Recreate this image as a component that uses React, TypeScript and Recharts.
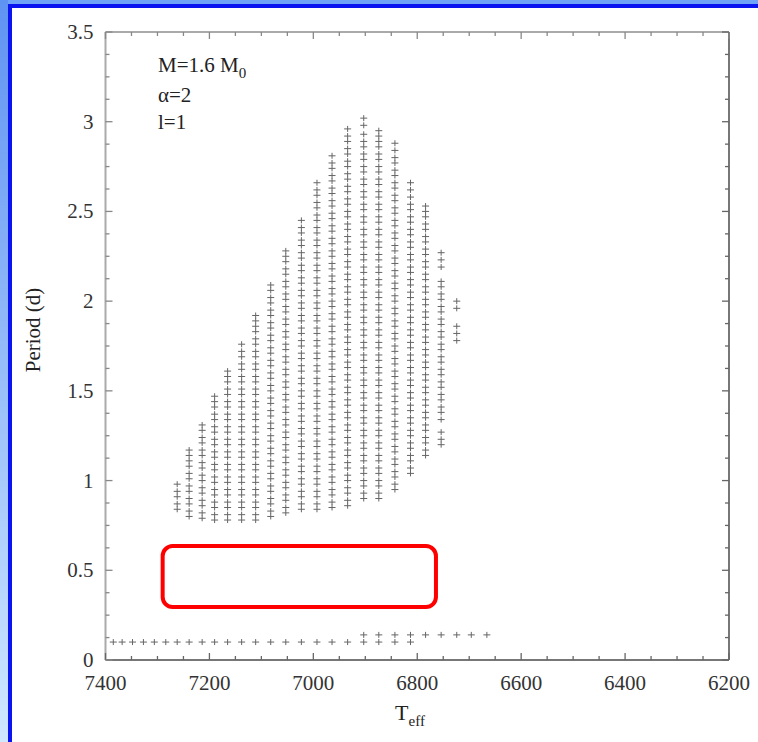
import React from 'react';
import { ScatterChart, Scatter, XAxis, YAxis, ReferenceArea } from 'recharts';

// ---- data ----
const col7262 = [0.84, 0.87, 0.91, 0.94, 0.98];
const col7239 = [0.8, 0.83, 0.87, 0.9, 0.94, 0.97, 1.01, 1.04, 1.08, 1.11, 1.14, 1.17];
const col7214 = [0.79, 0.82, 0.86, 0.89, 0.93, 0.96, 1.0, 1.03, 1.07, 1.1, 1.14, 1.17, 1.21, 1.24, 1.28, 1.31];
const col7190 = [0.78, 0.81, 0.85, 0.88, 0.92, 0.95, 0.99, 1.02, 1.06, 1.09, 1.13, 1.16, 1.2, 1.23, 1.27, 1.3, 1.34, 1.37, 1.41, 1.44, 1.47];
const col7165 = [0.78, 0.81, 0.85, 0.88, 0.92, 0.95, 0.99, 1.02, 1.06, 1.09, 1.13, 1.16, 1.2, 1.23, 1.27, 1.3, 1.34, 1.37, 1.41, 1.44, 1.48, 1.51, 1.55, 1.58, 1.61];
const col7138 = [0.78, 0.81, 0.85, 0.88, 0.92, 0.95, 0.99, 1.02, 1.06, 1.09, 1.13, 1.16, 1.2, 1.23, 1.27, 1.3, 1.34, 1.37, 1.41, 1.44, 1.48, 1.51, 1.55, 1.58, 1.62, 1.65, 1.69, 1.72, 1.76];
const col7111 = [0.78, 0.81, 0.85, 0.88, 0.92, 0.95, 0.99, 1.02, 1.06, 1.09, 1.13, 1.16, 1.2, 1.23, 1.27, 1.3, 1.34, 1.37, 1.41, 1.44, 1.48, 1.51, 1.55, 1.58, 1.62, 1.65, 1.69, 1.72, 1.76, 1.79, 1.83, 1.86, 1.89, 1.92];
const col7082 = [0.8, 0.83, 0.87, 0.9, 0.94, 0.97, 1.01, 1.04, 1.08, 1.11, 1.15, 1.18, 1.22, 1.25, 1.29, 1.32, 1.36, 1.39, 1.43, 1.46, 1.5, 1.53, 1.57, 1.6, 1.64, 1.67, 1.71, 1.74, 1.78, 1.81, 1.85, 1.88, 1.92, 1.95, 1.99, 2.02, 2.06, 2.09];
const col7053 = [0.82, 0.85, 0.89, 0.92, 0.96, 0.99, 1.03, 1.06, 1.1, 1.13, 1.17, 1.2, 1.24, 1.27, 1.31, 1.34, 1.38, 1.41, 1.45, 1.48, 1.52, 1.55, 1.59, 1.62, 1.66, 1.69, 1.73, 1.76, 1.8, 1.83, 1.87, 1.9, 1.94, 1.97, 2.01, 2.04, 2.08, 2.11, 2.15, 2.18, 2.22, 2.25, 2.28];
const col7023 = [0.84, 0.87, 0.91, 0.94, 0.98, 1.01, 1.05, 1.08, 1.12, 1.15, 1.19, 1.22, 1.26, 1.29, 1.33, 1.36, 1.4, 1.43, 1.47, 1.5, 1.54, 1.57, 1.61, 1.64, 1.68, 1.71, 1.75, 1.78, 1.82, 1.85, 1.89, 1.92, 1.96, 1.99, 2.03, 2.06, 2.1, 2.13, 2.17, 2.2, 2.24, 2.27, 2.31, 2.34, 2.38, 2.41, 2.45];
const col6993 = [0.84, 0.87, 0.91, 0.94, 0.98, 1.01, 1.05, 1.08, 1.12, 1.15, 1.19, 1.22, 1.26, 1.29, 1.33, 1.36, 1.4, 1.43, 1.47, 1.5, 1.54, 1.57, 1.61, 1.64, 1.68, 1.71, 1.75, 1.78, 1.82, 1.85, 1.89, 1.92, 1.96, 1.99, 2.03, 2.06, 2.1, 2.13, 2.17, 2.2, 2.24, 2.27, 2.31, 2.34, 2.38, 2.41, 2.45, 2.48, 2.52, 2.55, 2.59, 2.62, 2.66];
const col6964 = [0.85, 0.88, 0.92, 0.95, 0.99, 1.02, 1.06, 1.09, 1.13, 1.16, 1.2, 1.23, 1.27, 1.3, 1.34, 1.37, 1.41, 1.44, 1.48, 1.51, 1.55, 1.58, 1.62, 1.65, 1.69, 1.72, 1.76, 1.79, 1.83, 1.86, 1.9, 1.93, 1.97, 2.0, 2.04, 2.07, 2.11, 2.14, 2.18, 2.21, 2.25, 2.28, 2.32, 2.35, 2.39, 2.42, 2.46, 2.49, 2.53, 2.56, 2.6, 2.63, 2.67, 2.7, 2.74, 2.77, 2.81];
const col6934 = [0.86, 0.89, 0.93, 0.96, 1.0, 1.03, 1.07, 1.1, 1.14, 1.17, 1.21, 1.24, 1.28, 1.31, 1.35, 1.38, 1.42, 1.45, 1.49, 1.52, 1.56, 1.59, 1.63, 1.66, 1.7, 1.73, 1.77, 1.8, 1.84, 1.87, 1.91, 1.94, 1.98, 2.01, 2.05, 2.08, 2.12, 2.15, 2.19, 2.22, 2.26, 2.29, 2.33, 2.36, 2.4, 2.43, 2.47, 2.5, 2.54, 2.57, 2.61, 2.64, 2.68, 2.71, 2.75, 2.78, 2.82, 2.85, 2.89, 2.92, 2.96];
const col6903 = [0.9, 0.93, 0.97, 1.0, 1.04, 1.07, 1.11, 1.14, 1.18, 1.21, 1.25, 1.28, 1.32, 1.35, 1.39, 1.42, 1.46, 1.49, 1.53, 1.56, 1.6, 1.63, 1.67, 1.7, 1.74, 1.77, 1.81, 1.84, 1.88, 1.91, 1.95, 1.98, 2.02, 2.05, 2.09, 2.12, 2.16, 2.19, 2.23, 2.26, 2.3, 2.33, 2.37, 2.4, 2.44, 2.47, 2.51, 2.54, 2.58, 2.61, 2.65, 2.68, 2.72, 2.75, 2.79, 2.82, 2.86, 2.89, 2.93, 2.98, 3.02];
const col6874 = [0.9, 0.93, 0.97, 1.0, 1.04, 1.07, 1.11, 1.14, 1.18, 1.21, 1.25, 1.28, 1.32, 1.35, 1.39, 1.42, 1.46, 1.49, 1.53, 1.56, 1.6, 1.63, 1.67, 1.7, 1.74, 1.77, 1.81, 1.84, 1.88, 1.91, 1.95, 1.98, 2.02, 2.05, 2.09, 2.12, 2.16, 2.19, 2.23, 2.26, 2.3, 2.33, 2.37, 2.4, 2.44, 2.47, 2.51, 2.54, 2.58, 2.61, 2.65, 2.68, 2.72, 2.75, 2.79, 2.82, 2.86, 2.89, 2.92, 2.95];
const col6843 = [0.95, 0.98, 1.02, 1.05, 1.09, 1.12, 1.16, 1.19, 1.23, 1.26, 1.3, 1.33, 1.37, 1.4, 1.44, 1.47, 1.51, 1.54, 1.58, 1.61, 1.65, 1.68, 1.72, 1.75, 1.79, 1.82, 1.86, 1.89, 1.93, 1.96, 2.0, 2.03, 2.07, 2.1, 2.14, 2.17, 2.21, 2.24, 2.28, 2.31, 2.35, 2.38, 2.42, 2.45, 2.49, 2.52, 2.56, 2.59, 2.63, 2.66, 2.7, 2.73, 2.77, 2.8, 2.84, 2.88];
const col6813 = [1.04, 1.07, 1.11, 1.14, 1.18, 1.21, 1.25, 1.28, 1.32, 1.35, 1.39, 1.42, 1.46, 1.49, 1.53, 1.56, 1.6, 1.63, 1.67, 1.7, 1.74, 1.77, 1.81, 1.84, 1.88, 1.91, 1.95, 1.98, 2.02, 2.05, 2.09, 2.12, 2.16, 2.19, 2.23, 2.26, 2.3, 2.33, 2.37, 2.4, 2.44, 2.47, 2.51, 2.54, 2.58, 2.62, 2.66];
const col6784 = [1.14, 1.17, 1.21, 1.24, 1.28, 1.31, 1.35, 1.38, 1.42, 1.45, 1.49, 1.52, 1.56, 1.59, 1.63, 1.66, 1.7, 1.73, 1.77, 1.8, 1.84, 1.87, 1.91, 1.94, 1.98, 2.01, 2.05, 2.08, 2.12, 2.15, 2.19, 2.22, 2.26, 2.29, 2.33, 2.36, 2.4, 2.43, 2.47, 2.5, 2.53];
const col6754 = [1.2, 1.23, 1.27, 1.34, 1.38, 1.41, 1.45, 1.48, 1.52, 1.55, 1.59, 1.62, 1.66, 1.69, 1.73, 1.76, 1.8, 1.83, 1.87, 1.9, 1.94, 1.97, 2.01, 2.04, 2.08, 2.11, 2.19, 2.23, 2.27];
const col6724 = [1.78, 1.82, 1.86, 1.96, 2.0];

const cloudTeff = [7262, 7239, 7214, 7190, 7165, 7138, 7111, 7082, 7053, 7023, 6993, 6964, 6934, 6903, 6874, 6843, 6813, 6784, 6754, 6724];
const cloudPeriods = [col7262, col7239, col7214, col7190, col7165, col7138, col7111, col7082, col7053, col7023, col6993, col6964, col6934, col6903, col6874, col6843, col6813, col6784, col6754, col6724];

const lowTeff = [7385, 7368, 7348, 7327, 7306, 7284, 7262, 7239, 7214, 7190, 7165, 7138, 7111, 7082, 7053, 7023, 6993, 6964, 6934, 6903, 6874, 6843, 6813];
const lowPeriod = [0.1, 0.1, 0.1, 0.1, 0.1, 0.1, 0.1, 0.1, 0.1, 0.1, 0.1, 0.1, 0.1, 0.1, 0.1, 0.1, 0.1, 0.1, 0.1, 0.1, 0.1, 0.1, 0.1];
const highTeff = [6903, 6874, 6843, 6813, 6784, 6754, 6724, 6696, 6666];
const highPeriod = [0.14, 0.14, 0.14, 0.14, 0.14, 0.14, 0.14, 0.14, 0.14];

const xTicks = [7400, 7350, 7300, 7250, 7200, 7150, 7100, 7050, 7000, 6950, 6900, 6850, 6800, 6750, 6700, 6650, 6600, 6550, 6500, 6450, 6400, 6350, 6300, 6250, 6200];
const yTicks = [0, 0.125, 0.25, 0.375, 0.5, 0.625, 0.75, 0.875, 1, 1.125, 1.25, 1.375, 1.5, 1.625, 1.75, 1.875, 2, 2.125, 2.25, 2.375, 2.5, 2.625, 2.75, 2.875, 3, 3.125, 3.25, 3.375, 3.5];

// highlighted box (Teff range, period range)
const boxTeff = [7290, 6764];
const boxPeriod = [0.295, 0.635];

const points: { teff: number; period: number }[] = [];
cloudTeff.forEach((t, i) => cloudPeriods[i].forEach((p) => points.push({ teff: t, period: p })));
lowTeff.forEach((t, i) => points.push({ teff: t, period: lowPeriod[i] }));
highTeff.forEach((t, i) => points.push({ teff: t, period: highPeriod[i] }));

const FONT = 'Liberation Serif, Times New Roman, Times, serif';
const W = 758;
const H = 742;
const txt = { fontFamily: FONT };

const Plus = (props: any) => {
  const { cx, cy } = props;
  if (cx == null || cy == null) return null;
  return (
    <g stroke="#666" strokeWidth={1}>
      <line x1={cx - 3.5} x2={cx + 3.5} y1={cy} y2={cy} />
      <line x1={cx} x2={cx} y1={cy - 3} y2={cy + 3} />
    </g>
  );
};
const NoMark = () => <g />;

const isMajorX = (v: number) => v % 200 === 0;
const isMajorY = (v: number) => Math.abs(v * 2 - Math.round(v * 2)) < 1e-6;

const BottomTick = (props: any) => {
  const { x, y, payload } = props;
  const v = payload.value;
  const major = isMajorX(v);
  return (
    <g>
      <line x1={x} x2={x} y1={y} y2={y - (major ? 7 : 4)} stroke="#666" strokeWidth={1.3} />
      {major && (
        <text x={x} y={y + 30} textAnchor="middle" style={txt} fontSize={21} fill="#333">
          {v}
        </text>
      )}
    </g>
  );
};
const TopTick = (props: any) => {
  const { x, y, payload } = props;
  const major = isMajorX(payload.value);
  return <line x1={x} x2={x} y1={y} y2={y + (major ? 7 : 4)} stroke="#888" strokeWidth={1.3} />;
};
const LeftTick = (props: any) => {
  const { x, y, payload } = props;
  const v = payload.value;
  const major = isMajorY(v);
  return (
    <g>
      <line x1={x} x2={x + (major ? 7 : 4)} y1={y} y2={y} stroke="#888" strokeWidth={1.3} />
      {major && (
        <text x={x - 12} y={y + 7} textAnchor="end" style={txt} fontSize={21} fill="#333">
          {String(v)}
        </text>
      )}
    </g>
  );
};
const RightTick = (props: any) => {
  const { x, y, payload } = props;
  const major = isMajorY(payload.value);
  return <line x1={x} x2={x - (major ? 7 : 4)} y1={y} y2={y} stroke="#666" strokeWidth={1.3} />;
};

const RoundBox = (props: any) => {
  const { x, y, width, height } = props;
  return <rect x={x} y={y} width={width} height={height} rx={10} ry={10} fill="none" stroke="#ff0000" strokeWidth={4} />;
};

export default function App() {
  return (
    <div style={{ position: 'absolute', left: 0, top: 0, width: W, height: H, background: '#ffffff', overflow: 'hidden' }}>
      {/* slide frame */}
      <div style={{ position: 'absolute', left: 0, top: 0, width: W, height: 4, background: '#6fa3f7' }} />
      <div style={{ position: 'absolute', left: 0, top: 4, width: W, height: 4, background: '#0a14f0' }} />
      <div style={{ position: 'absolute', left: 0, top: 0, width: 8, height: H, background: 'linear-gradient(#5f93f3, #cfe7ff)' }} />
      <div style={{ position: 'absolute', left: 8, top: 4, width: 4, height: H, background: '#0a14f0' }} />

      <div style={{ position: 'absolute', left: 0, top: 0 }}>
        <ScatterChart width={W} height={H} margin={{ top: 31, right: 28, bottom: 0, left: 0 }}>
          <XAxis
            xAxisId="b"
            type="number"
            dataKey="teff"
            domain={[6200, 7400]}
            reversed
            ticks={xTicks}
            interval={0}
            height={82}
            tickSize={0}
            tickMargin={0}
            tickLine={false}
            tick={<BottomTick />}
            axisLine={{ stroke: '#777', strokeWidth: 2 }}
            allowDataOverflow
          />
          <XAxis
            xAxisId="t"
            orientation="top"
            type="number"
            dataKey="teff"
            domain={[6200, 7400]}
            reversed
            ticks={xTicks}
            interval={0}
            height={1}
            tickSize={0}
            tickMargin={0}
            tickLine={false}
            tick={<TopTick />}
            axisLine={{ stroke: '#aaa', strokeWidth: 2 }}
            allowDataOverflow
          />
          <YAxis
            yAxisId="l"
            type="number"
            dataKey="period"
            domain={[0, 3.5]}
            ticks={yTicks}
            interval={0}
            width={105.5}
            tickSize={0}
            tickMargin={0}
            tickLine={false}
            tick={<LeftTick />}
            axisLine={{ stroke: '#aaa', strokeWidth: 2 }}
            allowDataOverflow
          />
          <YAxis
            yAxisId="r"
            orientation="right"
            type="number"
            dataKey="period"
            domain={[0, 3.5]}
            ticks={yTicks}
            interval={0}
            width={1}
            tickSize={0}
            tickMargin={0}
            tickLine={false}
            tick={<RightTick />}
            axisLine={{ stroke: '#777', strokeWidth: 2 }}
            allowDataOverflow
          />
          <Scatter xAxisId="t" yAxisId="r" data={points} shape={<NoMark />} isAnimationActive={false} />
          <Scatter xAxisId="b" yAxisId="l" data={points} shape={<Plus />} isAnimationActive={false} />
          <ReferenceArea
            xAxisId="b"
            yAxisId="l"
            x1={boxTeff[0]}
            x2={boxTeff[1]}
            y1={boxPeriod[0]}
            y2={boxPeriod[1]}
            shape={<RoundBox />}
            ifOverflow="visible"
          />
        </ScatterChart>
      </div>

      <svg width={W} height={H} style={{ position: 'absolute', left: 0, top: 0, pointerEvents: 'none' }}>
        <text x={0} y={0} transform="translate(40, 330) rotate(-90)" textAnchor="middle" style={txt} fontSize={21} fill="#222">
          Period (d)
        </text>
        <text x={410} y={720} textAnchor="middle" style={txt} fontSize={22} fill="#222">
          T<tspan fontSize={15} dy={6}>eff</tspan>
        </text>
        <text x={158} y={72} style={txt} fontSize={21} fill="#222">
          M=1.6 M<tspan fontSize={15} dy={6}>0</tspan>
        </text>
        <text x={158} y={102} style={txt} fontSize={21} fill="#222">
          α=2
        </text>
        <text x={158} y={129} style={txt} fontSize={21} fill="#222">
          l=1
        </text>
      </svg>
    </div>
  );
}
